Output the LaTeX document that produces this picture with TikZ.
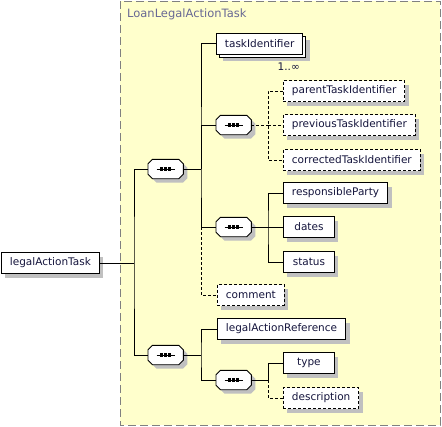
\documentclass[tikz,border=0pt]{standalone}
\usepackage{fontspec}
\newfontfamily\xsdfont{DejaVu Sans}
\usepackage{tikz}
\usetikzlibrary{calc,positioning,shadows}
\definecolor{xsdyellow}{RGB}{255,255,204}
\definecolor{xsdgrey}{RGB}{128,128,128}
\definecolor{xsdtitle}{RGB}{104,104,148}
\definecolor{xsdshade}{RGB}{192,192,192}
\definecolor{xsdtext}{RGB}{20,20,60}
\newcommand{\octpath}[1]{([xshift=4.5pt]#1.north west) -- ([xshift=-4.5pt]#1.north east)
  -- ([yshift=-4.5pt]#1.north east) -- ([yshift=4.5pt]#1.south east)
  -- ([xshift=-4.5pt]#1.south east) -- ([xshift=4.5pt]#1.south west)
  -- ([yshift=4.5pt]#1.south west) -- ([yshift=-4.5pt]#1.north west) -- cycle}
\newcommand{\seqnode}[2]{%
  \node[seqbox] (#1) at (#2) {};
  \fill[xsdshade,transform canvas={xshift=4pt,yshift=-4pt}] \octpath{#1};
  \filldraw[fill=white,line width=0.9pt] \octpath{#1};
  \draw[line width=1pt] ([xshift=-9pt]#1.center) -- ([xshift=9pt]#1.center);
  \foreach \d in {-4,0,4}
    \fill[black] ([xshift=\d pt]#1.center) ++(-1.7pt,-1.7pt) rectangle ++(3.4pt,3.4pt);
}
\tikzset{
  elembase/.style={draw,fill=white,line width=0.9pt,anchor=west,text=xsdtext,
              font=\xsdfont\fontsize{10.5}{12}\selectfont,minimum height=21pt,
              minimum width=51pt,inner xsep=8.5pt,inner ysep=0pt},
  elem/.style={elembase,drop shadow={shadow xshift=4pt,shadow yshift=-4pt,fill=xsdshade,opacity=1}},
  optelem/.style={elem,dash pattern=on 3pt off 2pt},
  multelem/.style={elembase,
              drop shadow={shadow xshift=7pt,shadow yshift=-7pt,fill=xsdshade,opacity=1},
              general shadow={shadow xshift=3pt,shadow yshift=-3pt,draw=black,fill=white,line width=0.9pt}},
  seqbox/.style={rectangle,minimum width=35pt,minimum height=19pt,inner sep=0pt,anchor=west},
  conn/.style={line width=0.9pt},
  optconn/.style={conn,dash pattern=on 3pt off 2pt}
}
\begin{document}
\begin{tikzpicture}[x=1pt,y=-1pt]
  \useasboundingbox (0,0) rectangle (442,426);
  \draw[xsdgrey,fill=xsdyellow,line width=1pt,dash pattern=on 8pt off 4pt] (120,1) rectangle (440,425);
  \node[anchor=west,text=xsdtitle,font=\xsdfont\fontsize{11.5}{14}\selectfont,inner sep=0pt] (ttl) at (127,14) {LoanLegalActionTask};

  \node[elem] (root) at (1,263) {legalActionTask};
  \seqnode{s1}{148,169}
  \seqnode{s3}{148,355}

  \node[multelem] (tid) at (216,43.5) {taskIdentifier};
  \node[anchor=east,text=xsdtext,font=\xsdfont\fontsize{10.5}{12}\selectfont,inner sep=0pt] (tidocc) at (300,67) {1..∞};
  \seqnode{s1a}{216,125}
  \seqnode{s2b}{216,227}
  \node[optelem] (cmt) at (217,295) {comment};

  \node[optelem] (pti) at (283,91) {parentTaskIdentifier};
  \node[optelem] (prv) at (283,125) {previousTaskIdentifier};
  \node[optelem] (cor) at (283,160) {correctedTaskIdentifier};
  \node[elem] (rsp) at (283,193) {responsibleParty};
  \node[elem] (dts) at (283,227) {dates};
  \node[elem] (sts) at (283,262) {status};

  \node[elem] (lar) at (217,329) {legalActionReference};
  \seqnode{s4}{216,380}
  \node[elem] (typ) at (283,363) {type};
  \node[optelem] (dsc) at (283,398) {description};

  \coordinate (f0) at (134,263);
  \coordinate (f1) at (201,169);
  \coordinate (f2) at (268,125);
  \coordinate (f3) at (268,227);
  \coordinate (f4) at (201,355);
  \coordinate (f5) at (268,380);

  \draw[conn] (root.east) -- (f0);
  \draw[conn] (s1.west) -| (f0) |- (s3.west);

  \draw[conn] (s1.east) -- (f1);
  \draw[conn] (tid.west) -| (f1) |- (s2b.west);
  \draw[conn] (f1) |- (s1a.west);
  \draw[optconn] (s2b.west -| f1) |- (cmt.west);

  \draw[optconn] (s1a.east) -- (f2);
  \draw[optconn] (pti.west) -| (f2) |- (cor.west);
  \draw[optconn] (f2) -- (prv.west);

  \draw[conn] (s2b.east) -- (f3);
  \draw[conn] (rsp.west) -| (f3) |- (sts.west);
  \draw[conn] (f3) -- (dts.west);

  \draw[conn] (s3.east) -- (f4);
  \draw[conn] (lar.west) -| (f4) |- (s4.west);

  \draw[conn] (s4.east) -- (f5);
  \draw[conn] (f5) |- (typ.west);
  \draw[optconn] (f5) |- (dsc.west);
\end{tikzpicture}
\end{document}
